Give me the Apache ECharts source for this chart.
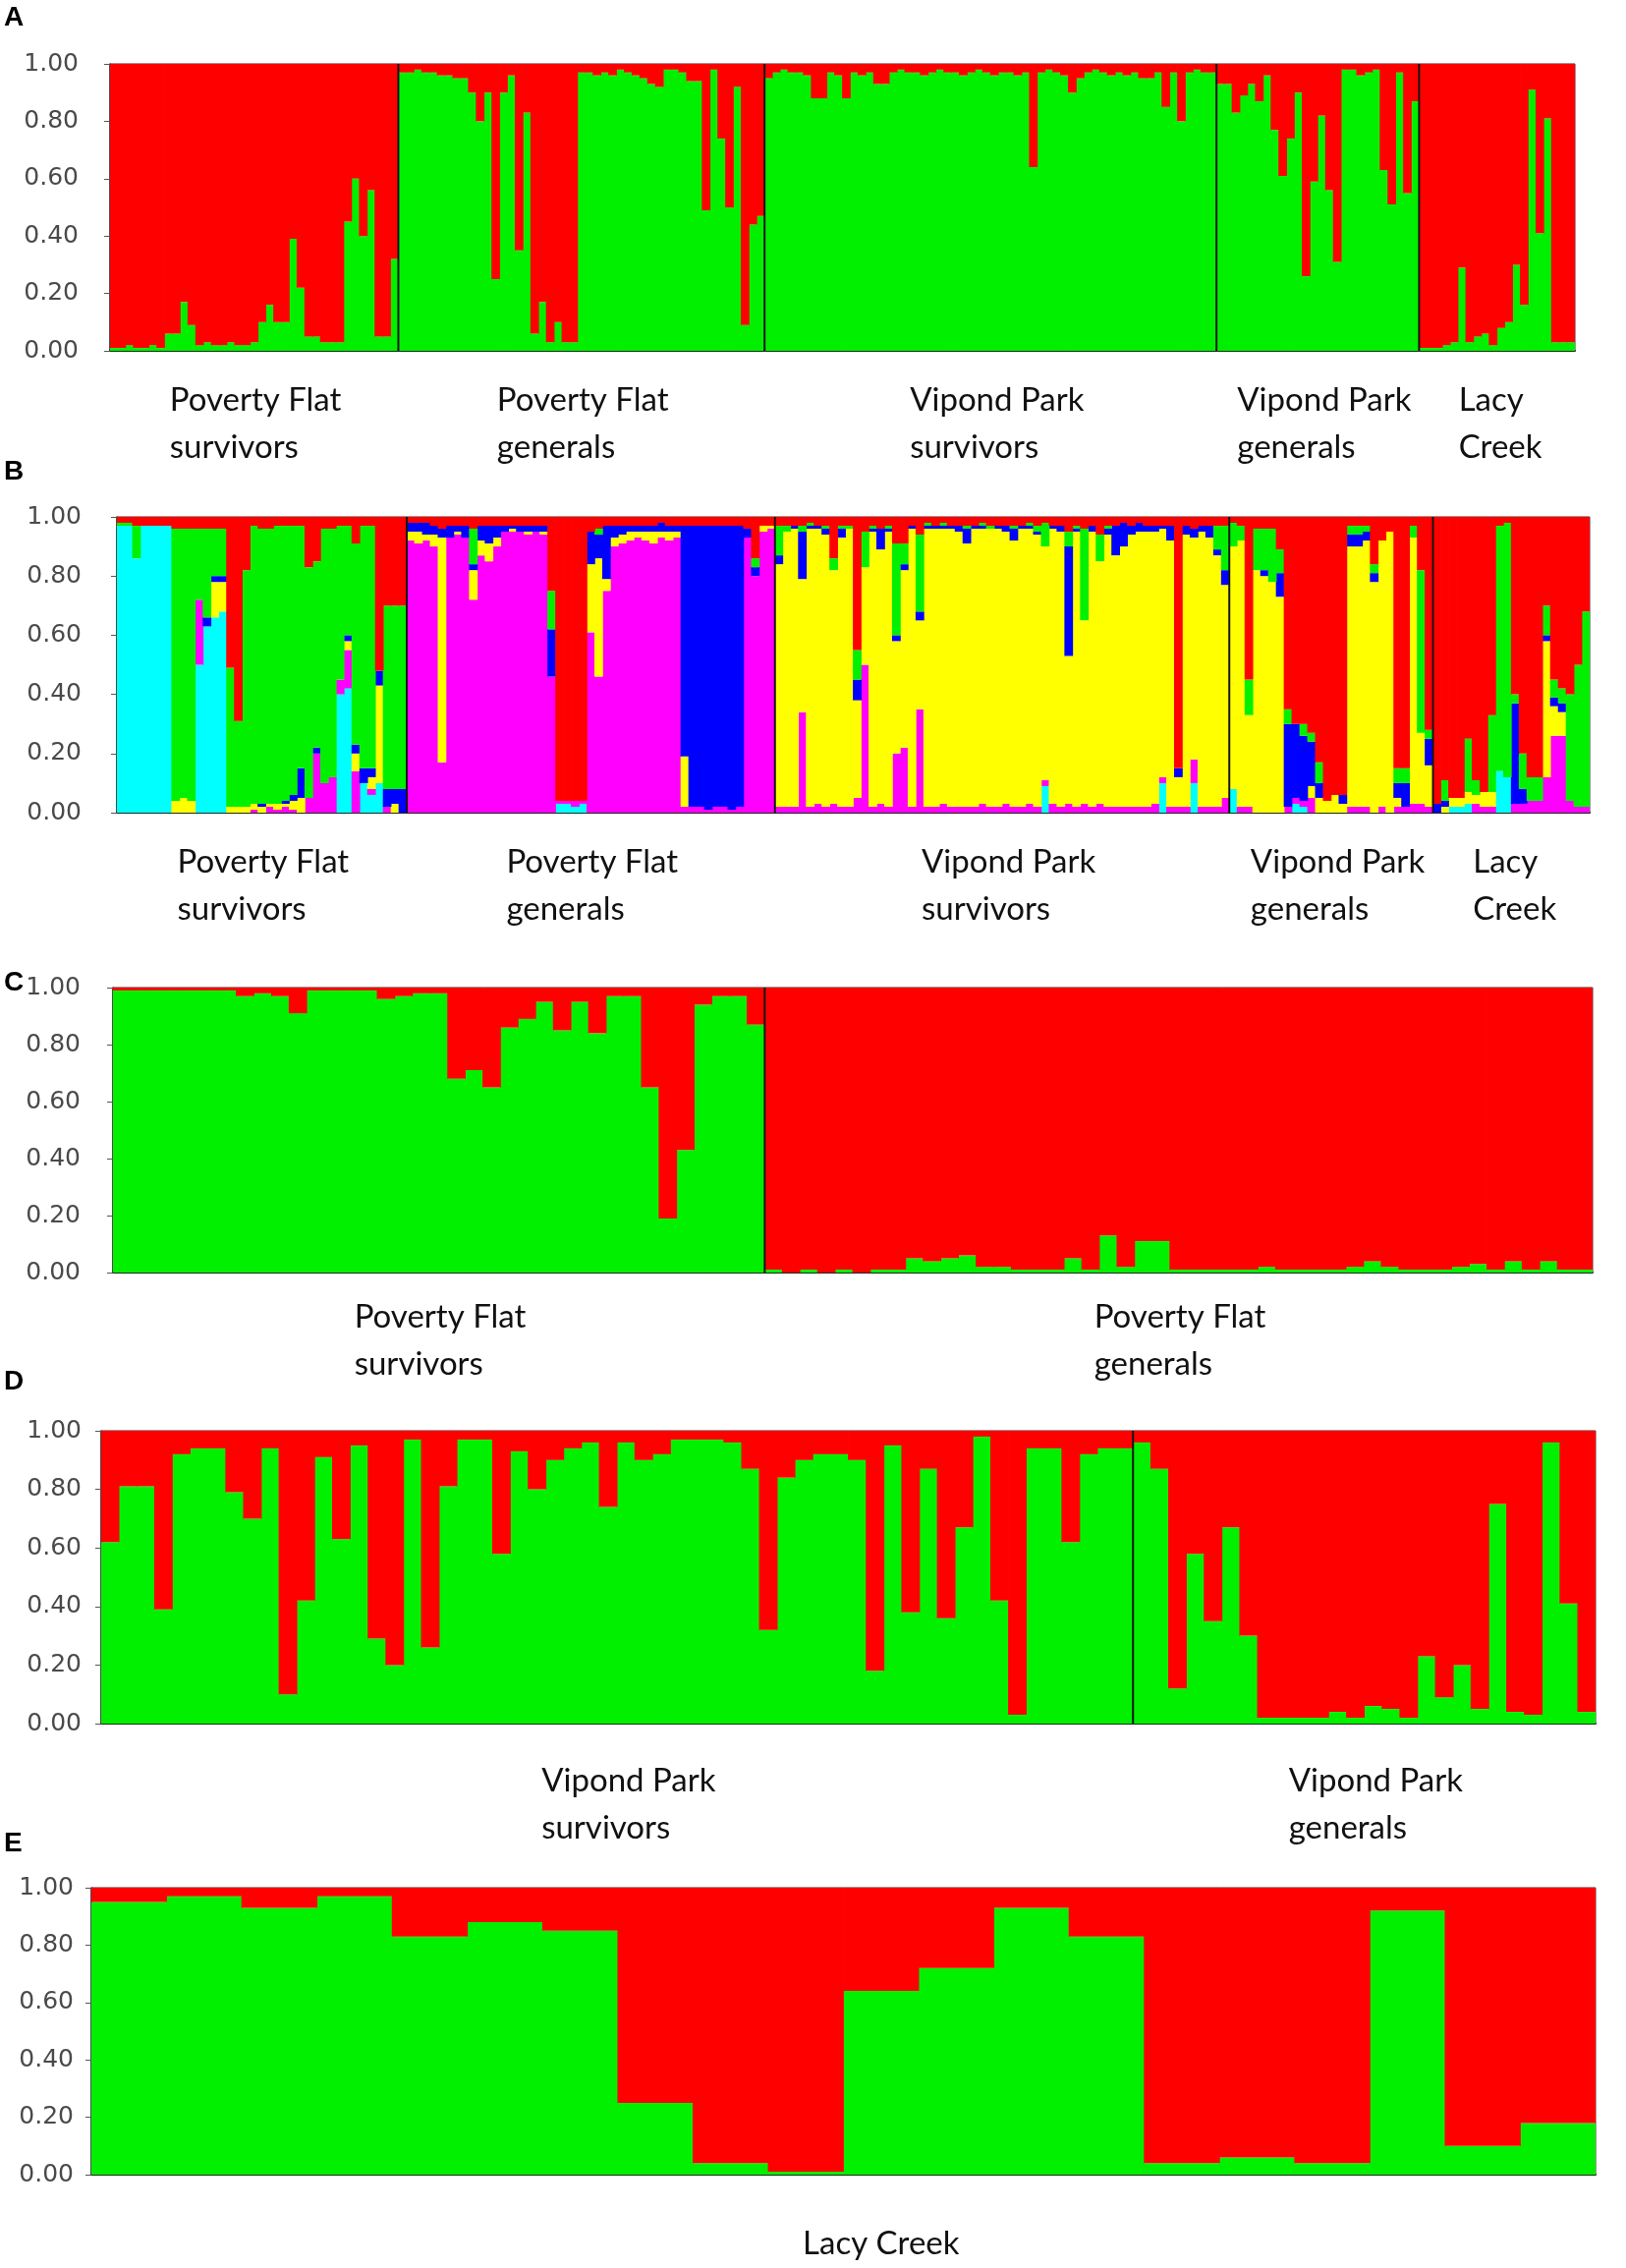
<!DOCTYPE html>
<html>
<head>
<meta charset="utf-8">
<script src="https://cdn.jsdelivr.net/npm/echarts@6/dist/echarts.min.js"></script>
<style>
  html, body { margin: 0; padding: 0; background: #fff; }
  #chart { width: 1655px; height: 2308px; }
</style>
</head>
<body>
<div id="chart"></div>
<script>
// ---- group labels ----
var labelsAB = ['Poverty Flat\nsurvivors', 'Poverty Flat\ngenerals', 'Vipond Park\nsurvivors', 'Vipond Park\ngenerals', 'Lacy\nCreek'];
var labelsC = ['Poverty Flat\nsurvivors', 'Poverty Flat\ngenerals'];
var labelsD = ['Vipond Park\nsurvivors', 'Vipond Park\ngenerals'];
var labelsE = ['Lacy Creek'];
var yTicks = [0, 0.2, 0.4, 0.6, 0.8, 1.0];

// ---- panel A (K=2), green share per individual ----
var aPovertySurvivors = [0.01,0.01,0.02,0.01,0.01,0.02,0.01,0.06,0.06,0.17,0.09,0.02,0.03,0.02,0.02,0.03,0.02,0.02,0.03,
  0.10,0.16,0.10,0.10,0.39,0.22,0.05,0.05,0.03,0.03,0.03,0.45,0.60,0.40,0.56,0.05,0.05,0.32];
var aPovertyGenerals = [0.97,0.97,0.98,0.97,0.97,0.96,0.96,0.95,0.95,0.90,0.80,0.90,0.25,0.90,0.96,0.35,0.83,0.06,0.17,
  0.03,0.10,0.03,0.03,0.97,0.97,0.96,0.97,0.96,0.98,0.97,0.96,0.95,0.93,0.92,0.98,0.98,0.97,0.94,0.94,0.49,0.98,0.74,
  0.50,0.92,0.09,0.44,0.47];
var aVipondSurvivors = [0.95,0.97,0.98,0.97,0.97,0.96,0.88,0.88,0.97,0.96,0.88,0.97,0.96,0.97,0.93,0.93,0.97,0.98,0.97,
  0.97,0.96,0.97,0.98,0.97,0.97,0.96,0.97,0.98,0.97,0.96,0.97,0.97,0.96,0.97,0.64,0.97,0.98,0.97,0.96,0.90,0.95,0.97,
  0.98,0.97,0.96,0.97,0.96,0.97,0.95,0.95,0.97,0.85,0.97,0.80,0.97,0.98,0.97,0.97];
var aVipondGenerals = [0.93,0.93,0.83,0.89,0.93,0.87,0.96,0.77,0.61,0.74,0.90,0.26,0.59,0.82,0.56,0.31,0.98,0.98,0.96,
  0.97,0.98,0.63,0.51,0.97,0.55,0.87];
var aLacy = [0.01,0.01,0.01,0.02,0.03,0.29,0.03,0.05,0.06,0.02,0.08,0.10,0.30,0.16,0.91,0.41,0.81,0.03,0.03,0.03];

// ---- panel B (K=6), each row: [cyan, magenta, yellow, blue, green, red] ----
var bPovertySurvivors = [
  [0.97,0,0,0,0.01,0.02],[0.97,0,0,0,0.01,0.02],[0.86,0,0,0,0.11,0.03],[0.97,0,0,0,0,0.03],[0.97,0,0,0,0,0.03],
  [0.97,0,0,0,0,0.03],[0.97,0,0,0,0,0.03],[0,0,0.04,0,0.92,0.04],[0,0,0.05,0,0.91,0.04],[0,0,0.04,0,0.92,0.04],
  [0.50,0.22,0,0,0.24,0.04],[0.63,0,0,0.03,0.30,0.04],[0.66,0,0.12,0.02,0.16,0.04],[0.68,0,0.10,0.02,0.16,0.04],
  [0,0,0.02,0,0.47,0.51],[0,0,0.02,0,0.29,0.69],[0,0,0.02,0,0.80,0.18],[0,0.01,0.02,0,0.94,0.03],
  [0,0,0.02,0.01,0.93,0.04],[0,0.02,0.01,0,0.93,0.04],[0,0.01,0.02,0,0.94,0.03],[0,0.02,0.01,0.01,0.93,0.03],
  [0,0.01,0.03,0.02,0.91,0.03],[0,0,0.05,0.10,0.82,0.03],[0,0.05,0,0,0.78,0.17],[0,0.20,0,0.02,0.63,0.15],
  [0,0.10,0,0,0.86,0.04],[0,0.12,0,0,0.84,0.04],[0.40,0.05,0,0,0.52,0.03],[0.42,0.13,0.03,0.02,0.37,0.03],
  [0,0.14,0.06,0.03,0.68,0.09],[0.10,0,0,0.05,0.82,0.03],[0.06,0.02,0.04,0.03,0.82,0.03],[0.10,0,0.33,0.05,0,0.52],
  [0,0.02,0,0.06,0.62,0.30],[0,0,0.03,0.05,0.62,0.30],[0,0,0,0.08,0.62,0.30]
];
var bPovertyGenerals = [
  [0,0.92,0.03,0.03,0,0.02],[0,0.91,0.04,0.03,0,0.02],[0,0.92,0.02,0.04,0,0.02],[0,0.90,0.04,0.03,0,0.03],
  [0,0.17,0.76,0.03,0,0.04],[0,0.93,0,0.04,0,0.03],[0,0.94,0.01,0.02,0,0.03],[0,0.93,0,0.04,0,0.03],
  [0,0.72,0.10,0.02,0.12,0.04],[0,0.87,0.05,0.05,0,0.03],[0,0.85,0.06,0.06,0,0.03],[0,0.90,0.03,0.04,0,0.03],
  [0,0.95,0,0.02,0,0.03],[0,0.95,0.01,0.01,0,0.03],[0,0.95,0,0.02,0,0.03],[0,0.94,0.01,0.02,0,0.03],
  [0,0.95,0,0.02,0,0.03],[0,0.94,0.01,0.02,0,0.03],[0,0.46,0,0.16,0.13,0.25],[0.03,0.01,0,0,0,0.96],
  [0.03,0.01,0,0,0,0.96],[0.02,0.02,0,0,0,0.96],[0.03,0.01,0,0,0,0.96],[0,0.61,0.23,0.11,0,0.05],
  [0,0.46,0.40,0.08,0.02,0.04],[0,0.75,0.04,0.18,0,0.03],[0,0.90,0.03,0.04,0,0.03],[0,0.91,0.03,0.03,0,0.03],
  [0,0.92,0.03,0.02,0,0.03],[0,0.93,0.02,0.02,0,0.03],[0,0.92,0.03,0.02,0,0.03],[0,0.91,0.04,0.02,0,0.03],
  [0,0.93,0.02,0.03,0,0.02],[0,0.92,0.03,0.02,0,0.03],[0,0.93,0.02,0.02,0,0.03],[0,0.02,0.17,0.78,0,0.03],
  [0,0.02,0,0.95,0,0.03],[0,0.02,0,0.95,0,0.03],[0,0.01,0,0.96,0,0.03],[0,0.02,0,0.95,0,0.03],
  [0,0.02,0,0.95,0,0.03],[0,0.01,0,0.96,0,0.03],[0,0.02,0,0.95,0,0.03],[0,0.93,0,0.03,0,0.04],
  [0,0.80,0,0.03,0.03,0.14],[0,0.95,0.02,0,0,0.03],[0,0.96,0.01,0,0,0.03]
];
var bVipondSurvivors = [
  [0,0.02,0.82,0.03,0.10,0.03],[0,0.02,0.93,0,0.02,0.03],[0,0.02,0.94,0.01,0,0.03],[0,0.34,0.45,0.16,0.02,0.03],
  [0,0.02,0.94,0.01,0.01,0.02],[0,0.03,0.93,0.01,0,0.03],[0,0.02,0.92,0.02,0.01,0.03],[0,0.03,0.79,0,0.04,0.14],
  [0,0.02,0.91,0.03,0.01,0.03],[0,0.02,0.94,0,0.01,0.03],[0,0.05,0.33,0.07,0.10,0.45],[0,0.50,0.33,0,0.12,0.05],
  [0,0.02,0.93,0.01,0.01,0.03],[0,0.03,0.86,0.07,0,0.04],[0,0.02,0.93,0.01,0.01,0.03],[0,0.20,0.38,0.02,0.31,0.09],
  [0,0.22,0.60,0.02,0.07,0.09],[0,0.02,0.94,0.01,0,0.03],[0,0.35,0.30,0.03,0.26,0.06],[0,0.02,0.94,0.01,0.01,0.02],
  [0,0.02,0.94,0.01,0,0.03],[0,0.03,0.93,0.01,0.01,0.02],[0,0.02,0.94,0.01,0,0.03],[0,0.02,0.93,0.02,0,0.03],
  [0,0.02,0.89,0.05,0.01,0.03],[0,0.02,0.94,0.01,0,0.03],[0,0.03,0.93,0.01,0.01,0.02],[0,0.02,0.94,0,0.01,0.03],
  [0,0.02,0.94,0.01,0,0.03],[0,0.03,0.92,0.02,0,0.03],[0,0.02,0.90,0.04,0.01,0.03],[0,0.02,0.94,0.01,0,0.03],
  [0,0.03,0.93,0.01,0.01,0.02],[0,0.02,0.92,0.01,0.02,0.03],[0.09,0.02,0.79,0,0.08,0.02],[0,0.03,0.93,0.01,0,0.03],
  [0,0.02,0.93,0.02,0,0.03],[0,0.03,0.50,0.37,0.05,0.05],[0,0.02,0.93,0.01,0.01,0.03],[0,0.03,0.62,0,0.31,0.04],
  [0,0.02,0.93,0.02,0,0.03],[0,0.03,0.82,0,0.09,0.06],[0,0.02,0.92,0.02,0.01,0.03],[0,0.02,0.85,0.10,0,0.03],
  [0,0.02,0.88,0.08,0,0.02],[0,0.02,0.92,0.03,0,0.03],[0,0.02,0.93,0.03,0,0.02],[0,0.02,0.93,0.02,0,0.03],
  [0,0.03,0.92,0.02,0,0.03],[0.10,0.02,0.84,0.01,0,0.03],[0,0.02,0.90,0.05,0,0.03],[0,0.02,0.10,0.03,0,0.85],
  [0,0.02,0.92,0.03,0,0.03],[0.10,0.08,0.75,0.03,0,0.04],[0,0.02,0.93,0.02,0,0.03],[0,0.02,0.91,0.04,0,0.03],
  [0,0.02,0.85,0.02,0.08,0.03],[0,0.05,0.72,0.05,0.15,0.03]
];
var bVipondGenerals = [
  [0.08,0,0.82,0,0.08,0.02],[0,0.02,0.90,0,0.05,0.03],[0,0.02,0.31,0,0.12,0.55],[0,0,0.82,0,0.14,0.04],
  [0,0,0.80,0.02,0.14,0.04],[0,0,0.78,0,0.18,0.04],[0,0,0.73,0.08,0.08,0.11],[0,0.02,0,0.28,0.05,0.65],
  [0.03,0.02,0,0.25,0,0.70],[0.02,0.02,0,0.22,0.04,0.70],[0,0.05,0.04,0.15,0.03,0.73],[0,0,0.05,0.05,0.07,0.83],
  [0,0,0.04,0,0,0.96],[0,0,0.06,0,0,0.94],[0,0,0.03,0.03,0,0.94],[0,0.02,0.88,0.04,0.03,0.03],
  [0,0.02,0.88,0.04,0.03,0.03],[0,0.02,0.90,0.03,0.02,0.03],[0,0,0.78,0.03,0.03,0.16],[0,0.02,0.90,0,0,0.08],
  [0,0,0.95,0,0,0.05],[0,0.02,0.03,0.05,0.05,0.85],[0,0.02,0,0.08,0.05,0.85],[0,0.03,0.90,0,0.04,0.03],
  [0,0.03,0.24,0,0.55,0.18],[0,0.02,0.14,0.09,0.03,0.72]
];
var bLacy = [
  [0,0,0,0.03,0,0.97],[0,0,0.02,0.02,0.07,0.89],[0.02,0,0.03,0,0,0.95],[0.02,0,0.03,0,0,0.95],
  [0.03,0,0.04,0,0.18,0.75],[0,0.03,0.03,0,0.05,0.89],[0,0.02,0.05,0,0,0.93],[0,0.02,0.05,0,0.26,0.67],
  [0.14,0,0,0,0.83,0.03],[0.12,0,0,0,0.86,0.02],[0,0.03,0,0.34,0.03,0.60],[0,0.03,0,0.05,0.12,0.80],
  [0,0.04,0,0,0.08,0.88],[0,0.04,0,0,0.08,0.88],[0,0.12,0.46,0.02,0.10,0.30],[0,0.26,0.10,0.03,0.06,0.55],
  [0,0.26,0.08,0.03,0.05,0.58],[0,0.04,0,0,0.36,0.60],[0,0.02,0,0,0.48,0.50],[0,0.02,0,0,0.66,0.32]
];

// ---- panel C (Poverty Flat only), green share ----
var cPovertySurvivors = [0.99,0.99,0.99,0.99,0.99,0.99,0.99,0.97,0.98,0.97,0.91,0.99,0.99,0.99,0.99,0.96,0.97,0.98,0.98,
  0.68,0.71,0.65,0.86,0.89,0.95,0.85,0.95,0.84,0.97,0.97,0.65,0.19,0.43,0.94,0.97,0.97,0.87];
var cPovertyGenerals = [0.01,0.00,0.01,0.00,0.01,0.00,0.01,0.01,0.05,0.04,0.05,0.06,0.02,0.02,0.01,0.01,0.01,0.05,0.01,
  0.13,0.02,0.11,0.11,0.01,0.01,0.01,0.01,0.01,0.02,0.01,0.01,0.01,0.01,0.02,0.04,0.02,0.01,0.01,0.01,0.02,0.03,0.01,
  0.04,0.01,0.04,0.01,0.01];

// ---- panel D (Vipond Park only), green share ----
var dVipondSurvivors = [0.62,0.81,0.81,0.39,0.92,0.94,0.94,0.79,0.70,0.94,0.10,0.42,0.91,0.63,0.95,0.29,0.20,0.97,0.26,
  0.81,0.97,0.97,0.58,0.93,0.80,0.90,0.94,0.96,0.74,0.96,0.90,0.92,0.97,0.97,0.97,0.96,0.87,0.32,0.84,0.90,0.92,0.92,
  0.90,0.18,0.95,0.38,0.87,0.36,0.67,0.98,0.42,0.03,0.94,0.94,0.62,0.92,0.94,0.94];
var dVipondGenerals = [0.96,0.87,0.12,0.58,0.35,0.67,0.30,0.02,0.02,0.02,0.02,0.04,0.02,0.06,0.05,0.02,0.23,0.09,0.20,
  0.05,0.75,0.04,0.03,0.96,0.41,0.04];

// ---- panel E (Lacy Creek only), green share ----
var eLacy = [0.95,0.97,0.93,0.97,0.83,0.88,0.85,0.25,0.04,0.01,0.64,0.72,0.93,0.83,0.04,0.06,0.04,0.92,0.10,0.18];

var RED = '#ff0000', GREEN = '#00f000';
var sixColors = ['#00ffff', '#ff00ff', '#ffff00', '#0000ff', GREEN, RED];
var WIDTH = 1655;

var panels = [
  { letter: 'A', letterTop: 4, grid: { left: 112, right: 52, top: 65, height: 292 }, labelMargin: 26, yMargin: 32,
    labels: labelsAB, two: [aPovertySurvivors, aPovertyGenerals, aVipondSurvivors, aVipondGenerals, aLacy] },
  { letter: 'B', letterTop: 466, grid: { left: 119, right: 37, top: 526, height: 301 }, labelMargin: 26, yMargin: 36,
    labels: labelsAB, six: [bPovertySurvivors, bPovertyGenerals, bVipondSurvivors, bVipondGenerals, bLacy] },
  { letter: 'C', letterTop: 986, grid: { left: 115, right: 34, top: 1005, height: 290 }, labelMargin: 21, yMargin: 33,
    labels: labelsC, two: [cPovertySurvivors, cPovertyGenerals] },
  { letter: 'D', letterTop: 1392, grid: { left: 103, right: 31, top: 1456, height: 298 }, labelMargin: 34, yMargin: 20,
    labels: labelsD, two: [dVipondSurvivors, dVipondGenerals] },
  { letter: 'E', letterTop: 1862, grid: { left: 93, right: 31, top: 1921, height: 292 }, labelMargin: 46, yMargin: 18,
    labels: labelsE, two: [eLacy] }
];

function richLabel(text) {
  var lines = text.split('\n');
  if (lines.length === 1) return text;
  var key = lines[0].length > 6 ? 'w' : 'n';
  return lines.map(function(l) { return '{' + key + '|' + l + '}'; }).join('\n');
}

var option = {
  backgroundColor: '#fff',
  animation: false,
  title: [], grid: [], xAxis: [], yAxis: [], series: []
};

panels.forEach(function(p, i) {
  var groups = p.two || p.six;
  var sizes = groups.map(function(g) { return g.length; });
  var n = sizes.reduce(function(a, b) { return a + b; }, 0);
  var ids = [];
  for (var k = 0; k < n; k++) ids.push(String(k + 1));
  // bars a hair wider than their band so neighbours overlap and no seams show
  var band = (WIDTH - p.grid.left - p.grid.right) / n;

  // group centre index -> label, and group boundaries
  var labelAt = {}, bounds = [], start = 0;
  sizes.forEach(function(s, gi) {
    labelAt[start + Math.floor(s / 2)] = richLabel(p.labels[gi]);
    start += s;
    if (start < n) bounds.push([start, 0]);
  });
  var isCentre = function(idx) { return labelAt[idx] !== undefined; };

  option.title.push({
    text: p.letter, left: 4, top: p.letterTop, padding: 0,
    textStyle: { fontFamily: 'Liberation Sans', fontSize: 28, fontWeight: 'bold', color: '#000' }
  });
  option.grid.push({
    left: p.grid.left, right: p.grid.right, top: p.grid.top, height: p.grid.height,
    show: true, borderColor: '#333', borderWidth: 1, backgroundColor: 'transparent'
  });
  option.xAxis.push({
    type: 'category', gridIndex: i, data: ids, boundaryGap: true,
    axisLine: { lineStyle: { color: '#1d2a1d', width: 2 } },
    axisTick: { alignWithLabel: true, interval: function(idx) { return isCentre(idx); }, length: 8,
      lineStyle: { color: '#444', width: 1.5 } },
    axisLabel: {
      interval: function(idx) { return isCentre(idx); },
      formatter: function(v, idx) { return labelAt[idx] || ''; },
      margin: p.labelMargin, fontFamily: 'Lato', fontSize: 33, color: '#111', lineHeight: 48,
      rich: {
        w: { width: 172, align: 'left', fontFamily: 'Lato', fontSize: 33, color: '#111', lineHeight: 48 },
        n: { width: 86, align: 'left', fontFamily: 'Lato', fontSize: 33, color: '#111', lineHeight: 48 }
      }
    },
    splitLine: { show: false }
  });
  option.yAxis.push({
    type: 'value', gridIndex: i, min: 0, max: 1, interval: 0.2,
    axisLine: { show: true, lineStyle: { color: '#333', width: 1.5 } },
    axisTick: { show: true, length: 6, lineStyle: { color: '#555' } },
    axisLabel: { margin: p.yMargin, fontFamily: 'DejaVu Sans', fontSize: 25, color: '#4a4a4a',
      formatter: function(v) { return yTicks.indexOf(Math.round(v * 10) / 10) >= 0 ? v.toFixed(2) : ''; } },
    splitLine: { show: false }
  });

  var barBase = {
    type: 'bar', xAxisIndex: i, yAxisIndex: i, stack: 'p' + i,
    barWidth: band + 0.8, silent: true
  };
  var series = [];
  if (p.two) {
    var green = [].concat.apply([], groups);
    var red = green.map(function(g) { return +(1 - g).toFixed(2); });
    series.push({ data: green, color: GREEN }, { data: red, color: RED });
  } else {
    var rows = [].concat.apply([], groups);
    sixColors.forEach(function(c, ci) {
      series.push({ data: rows.map(function(r) { return r[ci]; }), color: c });
    });
  }
  series.forEach(function(s) {
    option.series.push(Object.assign({}, barBase, {
      data: s.data,
      itemStyle: { color: s.color }
    }));
  });

  // black separators between populations
  if (bounds.length) {
    option.series.push({
      type: 'custom', xAxisIndex: i, yAxisIndex: i, silent: true, z: 5,
      data: bounds,
      renderItem: function(params, api) {
        var bottom = api.coord([api.value(0), 0]);
        var top = api.coord([api.value(0), 1]);
        var x = bottom[0] - api.size([1, 0])[0] / 2;
        return { type: 'line', shape: { x1: x, y1: top[1], x2: x, y2: bottom[1] },
          style: { stroke: '#151515', lineWidth: 2 } };
      }
    });
  }
});

var chart = echarts.init(document.getElementById('chart'), null, { renderer: 'canvas' });
chart.setOption(option);
</script>
</body>
</html>
